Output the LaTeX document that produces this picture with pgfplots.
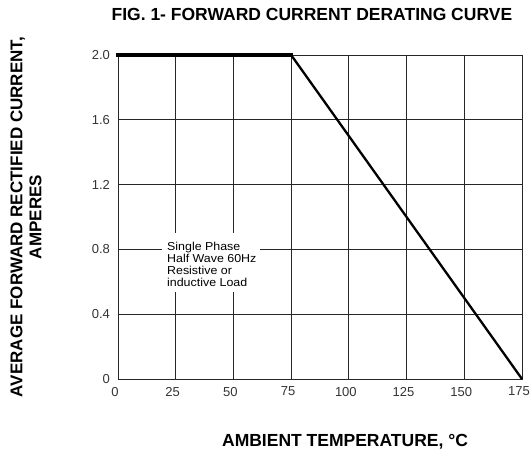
\documentclass[border=0pt]{standalone}
\usepackage{pgfplots}
\pgfplotsset{compat=1.18}
\usepackage{fontspec}
\setmainfont{Liberation Sans}
\begin{document}
\begin{tikzpicture}
\path[use as bounding box] (-118pt,-72pt) rectangle (413pt,379pt);
\begin{axis}[
  at={(0,0)}, anchor=south west,
  scale only axis, width=404pt, height=324pt,
  xmin=0, xmax=175, ymin=0, ymax=2,
  xtick={0,25,50,75,100,125,150,175},
  ytick={0,0.4,0.8,1.2,1.6,2.0},
  yticklabels={0,0.4,0.8,1.2,1.6,2.0},
  /pgf/number format/assume math mode=true,
  grid=major,
  major grid style={black!85, line width=0.9pt},
  axis line style={black!85, line width=0.9pt},
  major tick length=0pt,
  tick label style={font=\fontsize{13}{15}\selectfont, text=black!80},
  xticklabel style={yshift=-4.5pt, xshift=-3pt},
  yticklabel style={xshift=-4.5pt},
  clip=false,
]
\addplot[black, line width=4pt, line cap=rect] coordinates {(0,2.0) (75,2.0)};
\addplot[black, line width=2.3pt] coordinates {(75,2.0) (175,0)};
\fill[white] (axis cs:19,0.537) rectangle (axis cs:61.5,0.90);
\node[anchor=north west, inner sep=0pt, align=left, xscale=1.08,
  font=\fontsize{11.5}{12}\selectfont] at (axis cs:21.2,0.845)
  {Single Phase\\Half Wave 60Hz\\Resistive or\\inductive Load};
\node[anchor=base, font=\fontsize{17.5}{20}\bfseries] at ([yshift=35pt]rel axis cs:0.48,1)
  {FIG. 1- FORWARD CURRENT DERATING CURVE};
\node[anchor=base, font=\fontsize{17.5}{20}\bfseries] at ([yshift=-67pt]rel axis cs:0.562,0)
  {AMBIENT TEMPERATURE, \textdegree C};
\node[rotate=90, anchor=center, align=center, font=\fontsize{17}{19}\bfseries]
  at ([xshift=-92pt]rel axis cs:0,0.5)
  {AVERAGE FORWARD RECTIFIED CURRENT,\\AMPERES};
\end{axis}
\end{tikzpicture}
\end{document}
